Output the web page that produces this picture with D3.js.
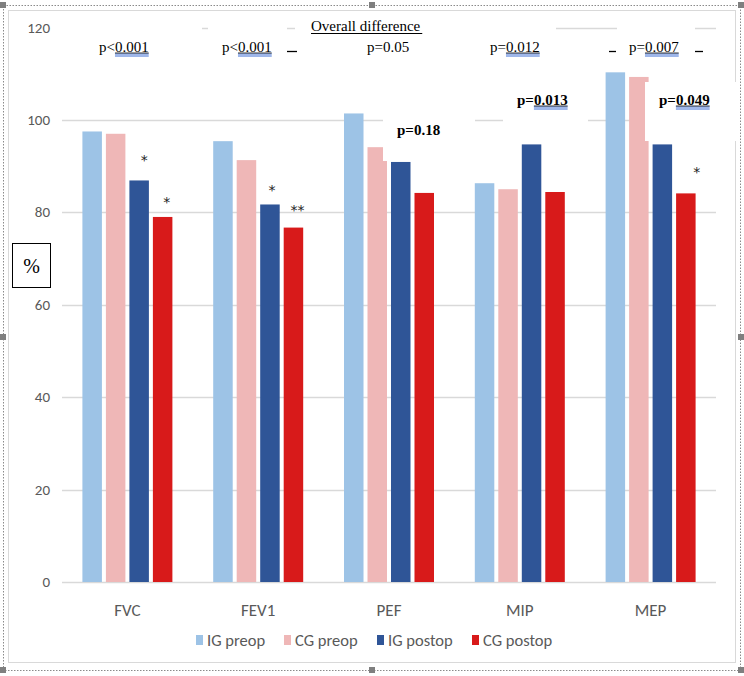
<!DOCTYPE html>
<html>
<head>
<meta charset="utf-8">
<script src="https://cdn.jsdelivr.net/npm/d3@7"></script>
<style>
  body { margin: 0; background: #fff; }
  svg { display: block; }
</style>
</head>
<body>
<div id="chart"></div>
<script>
const categories = ['FVC', 'FEV1', 'PEF', 'MIP', 'MEP']
const seriesNames = ['IG preop', 'CG preop', 'IG postop', 'CG postop']
const igPreop  = [97.5, 95.4, 101.4, 86.3, 110.3]
const cgPreop  = [97.0, 91.3, 94.1, 85.0, 109.3]
const igPostop = [86.9, 81.7, 90.9, 94.7, 94.7]
const cgPostop = [79.0, 76.7, 84.2, 84.4, 84.1]
const yTicks   = [0, 20, 40, 60, 80, 100, 120]
const colors   = ['#9dc3e6', '#efb7b7', '#2f5597', '#d81a1a']

// p-value annotations: [prefix, underlined part, x, baseline, bold]
const topNotes = [
  ['p<', '0.001', 99, 52, false],
  ['p<', '0.001', 222, 52, false],
  ['p=0.05', '', 367, 52, false],
  ['p=', '0.012', 490, 52, false],
  ['p=', '0.007', 629, 52, false],
  ['p=0.18', '', 397, 135, true],
  ['p=', '0.013', 517, 105, true],
  ['p=', '0.049', 659, 105, true]
]
// stars above postop bars: [category, series index, text, dx, dy]
const stars = [
  ['FVC', 2, '*', 5, 24],
  ['FVC', 3, '*', 4, 19],
  ['FEV1', 2, '*', 2, 18],
  ['FEV1', 3, '**', 4, 22],
  ['MEP', 3, '*', 11, 25]
]

const width = 744, height = 676
const svg = d3.select('#chart').append('svg').attr('width', width).attr('height', height)
const sans = 'Carlito, Lato, sans-serif'
const serif = '"Liberation Serif", "Times New Roman", serif'

// chart area border
svg.append('rect').attr('x', 8.5).attr('y', 10.5).attr('width', 727).attr('height', 652)
  .attr('fill', '#fff').attr('stroke', '#d9d9d9').attr('stroke-width', 1)

const x0 = d3.scaleBand().domain(categories).range([62, 716]).paddingInner(0.312).paddingOuter(0.156)
const x1 = d3.scaleBand().domain(d3.range(4)).range([0, x0.bandwidth()]).paddingInner(0.17)
const y  = d3.scaleLinear().domain([0, 120]).range([582, 27.5])

// gridlines
svg.append('g').selectAll('line').data(yTicks).enter().append('line')
  .attr('x1', 62).attr('x2', 716)
  .attr('y1', d => Math.round(y(d)) + 0.5).attr('y2', d => Math.round(y(d)) + 0.5)
  .attr('stroke', '#d9d9d9').attr('stroke-width', 1.5)

// tick labels
svg.append('g').selectAll('text').data(yTicks).enter().append('text')
  .attr('x', 50).attr('y', d => y(d) + 5)
  .attr('text-anchor', 'end')
  .style('font-family', sans).style('font-size', '15px').style('fill', '#595959')
  .text(d => d)

// bars
const allSeries = [igPreop, cgPreop, igPostop, cgPostop]
const groups = svg.append('g').selectAll('g').data(categories).enter().append('g')
  .attr('transform', d => 'translate(' + x0(d) + ',0)')
groups.selectAll('rect').data((d, ci) => allSeries.map((s, si) => ({ si: si, v: s[ci] }))).enter().append('rect')
  .attr('x', d => x1(d.si)).attr('width', x1.bandwidth())
  .attr('y', d => y(d.v)).attr('height', d => y(0) - y(d.v))
  .attr('fill', d => colors[d.si])

// category labels
svg.append('g').selectAll('text').data(categories).enter().append('text')
  .attr('x', d => x0(d) + x0.bandwidth() / 2).attr('y', 616)
  .attr('text-anchor', 'middle')
  .style('font-family', sans).style('font-size', '17px').style('fill', '#595959')
  .text(d => d)

// white annotation boxes (they hide gridlines / bar edges like in the source)
const boxes = [[62, 14, 202, 60], [208, 14, 287, 60], [295, 14, 556, 60], [617, 14, 695, 60],
               [383, 100, 475, 161], [503, 84, 588, 127], [645, 82, 740, 141]]
svg.append('g').selectAll('rect').data(boxes).enter().append('rect')
  .attr('x', d => d[0]).attr('y', d => d[1]).attr('width', d => d[2] - d[0]).attr('height', d => d[3] - d[1])
  .attr('fill', '#fff')

// overall difference title
const title = svg.append('text').attr('x', 311).attr('y', 31)
  .style('font-family', serif).style('font-size', '15px').style('fill', '#000')
  .text('Overall difference')
const tw = title.node().getComputedTextLength()
svg.append('line').attr('x1', 311).attr('x2', 311 + tw + 2).attr('y1', 33.5).attr('y2', 33.5)
  .attr('stroke', '#000').attr('stroke-width', 1)

// p-values
topNotes.forEach(n => {
  const t = svg.append('text').attr('x', n[2]).attr('y', n[3])
    .style('font-family', serif).style('font-size', '15px').style('fill', '#000')
    .style('font-weight', n[4] ? 'bold' : 'normal')
  t.append('tspan').text(n[0])
  if (n[1]) {
    const pre = t.node().getComputedTextLength()
    t.append('tspan').text(n[1])
    const full = t.node().getComputedTextLength()
    ;[2, 4].forEach(off => {
      svg.append('line').attr('x1', n[2] + pre).attr('x2', n[2] + full)
        .attr('y1', n[3] + off).attr('y2', n[3] + off)
        .attr('stroke', '#3f6fd4').attr('stroke-width', 1)
    })
    svg.append('line').attr('x1', n[2] + pre).attr('x2', n[2] + full)
      .attr('y1', n[3] + 1).attr('y2', n[3] + 1).attr('stroke', '#000').attr('stroke-width', 0.8)
  }
})

// stray dashes
;[[287, 297], [609, 616], [695, 703]].forEach(d => {
  svg.append('line').attr('x1', d[0]).attr('x2', d[1]).attr('y1', 51.5).attr('y2', 51.5)
    .attr('stroke', '#000').attr('stroke-width', 1.3)
})

// stars
stars.forEach(s => {
  const ci = categories.indexOf(s[0])
  const v = allSeries[s[1]][ci]
  svg.append('text')
    .attr('x', x0(s[0]) + x1(s[1]) + x1.bandwidth() / 2 + s[3])
    .attr('y', y(v) - s[4] + 9)
    .attr('text-anchor', 'middle')
    .attr('fill', '#222')
    .style('font-family', '"DejaVu Sans", sans-serif').style('font-size', '14px')
    .text(s[2])
})

// % label box
svg.append('rect').attr('x', 12.5).attr('y', 243.5).attr('width', 38).attr('height', 44)
  .attr('fill', '#fff').attr('stroke', '#000').attr('stroke-width', 1)
svg.append('text').attr('x', 31.5).attr('y', 273).attr('text-anchor', 'middle')
  .style('font-family', serif).style('font-size', '20px').text('%')

// legend
const legendX = [196, 284, 377, 472]
const legend = svg.append('g').selectAll('g').data(seriesNames).enter().append('g')
  .attr('transform', (d, i) => 'translate(' + legendX[i] + ',635)')
legend.append('rect').attr('width', 7).attr('height', 10).attr('fill', (d, i) => colors[i])
legend.append('text').attr('x', 11).attr('y', 11)
  .style('font-family', sans).style('font-size', '16.5px').style('fill', '#595959')
  .text(d => d)

// outer selection frame
svg.append('rect').attr('x', 3.5).attr('y', 5.5).attr('width', 737).attr('height', 665)
  .attr('fill', 'none').attr('stroke', '#8a8a8a').attr('stroke-width', 1).attr('stroke-dasharray', '1.5,1.5')
const handles = [[3, 5], [372, 5], [741, 5], [3, 337], [741, 337], [3, 670], [372, 670], [741, 670]]
svg.append('g').selectAll('rect').data(handles).enter().append('rect')
  .attr('x', d => d[0] - 3).attr('y', d => d[1] - 3).attr('width', 6).attr('height', 6)
  .attr('fill', '#7f7f7f')
</script>
</body>
</html>
